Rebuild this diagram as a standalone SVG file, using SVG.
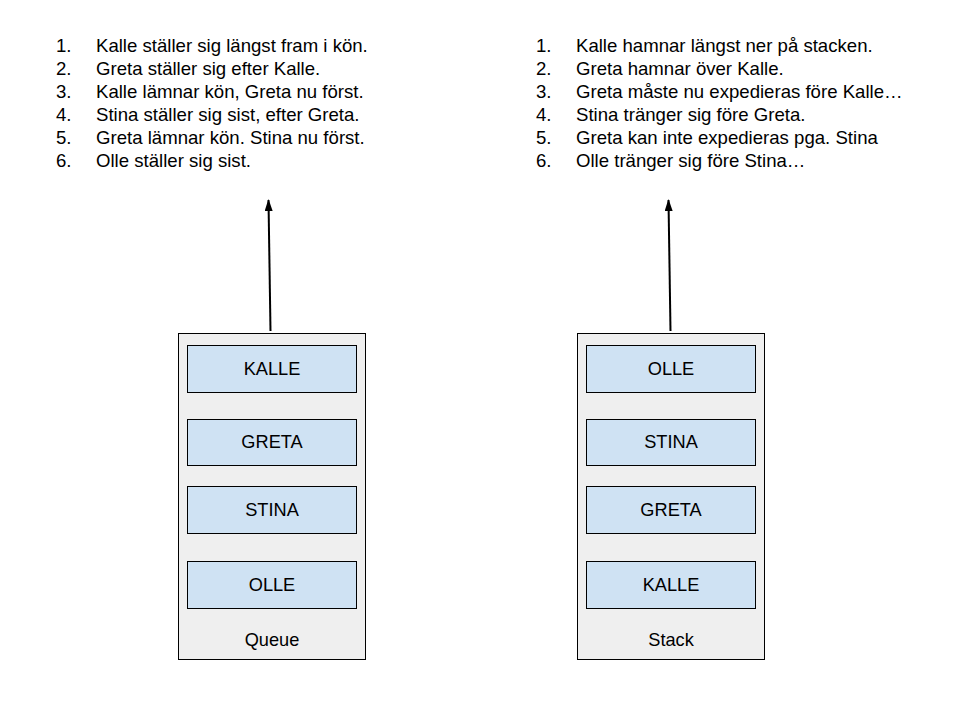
<svg xmlns="http://www.w3.org/2000/svg" width="960" height="720" viewBox="0 0 960 720">
<style>
text{font-family:"Liberation Sans",Arial,sans-serif;fill:#000}
.li{font-size:18.6px}
.lbl{font-size:18.2px;text-anchor:middle;dominant-baseline:central}
.cont{fill:#efefef;stroke:#000;stroke-width:1}
.item{fill:#cfe2f3;stroke:#000;stroke-width:1}
.conn{stroke:#000;stroke-width:2;fill:none;marker-end:url(#ah)}
</style>
<defs>
<marker id="ah" viewBox="0 0 12 8" refX="11" refY="4" markerWidth="6" markerHeight="4" orient="auto" markerUnits="strokeWidth">
<path d="M0,0 L12,4 L0,8 z" fill="#000"/>
</marker>
</defs>
<rect width="960" height="720" fill="#fff"/>
<g id="queue-list">
<text class="li" x="56" y="52">1.</text><text class="li" x="96" y="52">Kalle ställer sig längst fram i kön.</text>
<text class="li" x="56" y="75">2.</text><text class="li" x="96" y="75">Greta ställer sig efter Kalle.</text>
<text class="li" x="56" y="98">3.</text><text class="li" x="96" y="98">Kalle lämnar kön, Greta nu först.</text>
<text class="li" x="56" y="121">4.</text><text class="li" x="96" y="121">Stina ställer sig sist, efter Greta.</text>
<text class="li" x="56" y="144">5.</text><text class="li" x="96" y="144">Greta lämnar kön. Stina nu först.</text>
<text class="li" x="56" y="167">6.</text><text class="li" x="96" y="167">Olle ställer sig sist.</text>
</g>
<g id="stack-list">
<text class="li" x="536" y="52">1.</text><text class="li" x="576" y="52">Kalle hamnar längst ner på stacken.</text>
<text class="li" x="536" y="75">2.</text><text class="li" x="576" y="75">Greta hamnar över Kalle.</text>
<text class="li" x="536" y="98">3.</text><text class="li" x="576" y="98">Greta måste nu expedieras före Kalle…</text>
<text class="li" x="536" y="121">4.</text><text class="li" x="576" y="121">Stina tränger sig före Greta.</text>
<text class="li" x="536" y="144">5.</text><text class="li" x="576" y="144">Greta kan inte expedieras pga. Stina</text>
<text class="li" x="536" y="167">6.</text><text class="li" x="576" y="167">Olle tränger sig före Stina…</text>
</g>
<g id="queue">
<rect class="cont" x="178.5" y="333.5" width="187" height="326"/>
<text class="lbl" x="272" y="640">Queue</text>
</g>
<g id="q-kalle"><rect class="item" x="187.5" y="345.5" width="169" height="47"/><text class="lbl" x="272" y="369">KALLE</text></g>
<g id="q-greta"><rect class="item" x="187.5" y="419.5" width="169" height="46"/><text class="lbl" x="272" y="442">GRETA</text></g>
<g id="q-stina"><rect class="item" x="187.5" y="486.5" width="169" height="47"/><text class="lbl" x="272" y="510">STINA</text></g>
<g id="q-olle"><rect class="item" x="187.5" y="561.5" width="169" height="47"/><text class="lbl" x="272" y="585">OLLE</text></g>
<g id="stack">
<rect class="cont" x="577.5" y="333.5" width="187" height="326"/>
<text class="lbl" x="671" y="640">Stack</text>
</g>
<g id="s-olle"><rect class="item" x="586.5" y="345.5" width="169" height="47"/><text class="lbl" x="671" y="369">OLLE</text></g>
<g id="s-stina"><rect class="item" x="586.5" y="419.5" width="169" height="46"/><text class="lbl" x="671" y="442">STINA</text></g>
<g id="s-greta"><rect class="item" x="586.5" y="486.5" width="169" height="47"/><text class="lbl" x="671" y="510">GRETA</text></g>
<g id="s-kalle"><rect class="item" x="586.5" y="561.5" width="169" height="47"/><text class="lbl" x="671" y="585">KALLE</text></g>
<g id="connectors">
<line class="conn" x1="270.5" y1="331" x2="268.5" y2="200"/>
<line class="conn" x1="670.5" y1="331" x2="668.5" y2="200"/>
</g>
</svg>
